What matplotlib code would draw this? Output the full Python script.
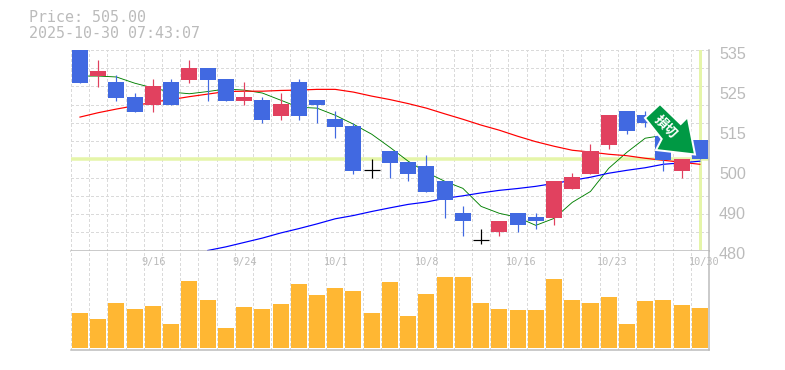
import matplotlib
matplotlib.use('Agg')
import matplotlib.pyplot as plt
from matplotlib.patches import Polygon, Rectangle
from matplotlib.transforms import IdentityTransform

# candles, oldest first. the first one runs off the top of the chart
opens = [535.0, 527.9, 526.2, 522.1, 519.9, 526.2, 526.8, 530.0, 527.0, 521.0, 521.2, 516.9,
         526.2, 521.2, 516.0, 514.1, 502.0, 507.2, 504.2, 503.1, 499.2, 490.2, 483.0, 485.0,
         490.2, 489.1, 488.8, 496.8, 500.9, 508.9, 518.2, 517.1, 511.4, 501.7, 510.2]
closes = [526.0, 529.2, 521.8, 518.0, 525.1, 519.9, 530.0, 526.8, 521.0, 522.1, 515.8, 520.2,
          516.9, 519.9, 513.8, 501.8, 502.0, 504.0, 500.9, 496.0, 493.8, 488.0, 483.0, 488.2,
          486.9, 488.0, 499.2, 500.1, 507.2, 517.1, 512.7, 514.9, 504.8, 505.0, 505.0]
highs = [535.0, 532.2, 528.1, 523.2, 527.0, 527.0, 532.2, 530.0, 527.0, 526.2, 522.1, 523.2,
         527.0, 521.2, 518.2, 514.9, 505.0, 507.2, 504.2, 506.1, 499.2, 492.1, 486.0, 488.2,
         490.2, 490.2, 499.2, 501.2, 509.2, 517.1, 518.2, 518.2, 511.4, 505.0, 510.2]
lows = [526.0, 524.9, 521.0, 518.0, 518.0, 519.9, 525.9, 521.0, 521.0, 519.9, 514.9, 515.8,
        515.8, 514.9, 510.8, 500.9, 499.8, 499.8, 499.0, 496.0, 488.8, 483.9, 481.9, 483.9,
        485.0, 485.8, 486.9, 496.8, 500.9, 507.8, 511.9, 513.8, 501.7, 499.8, 505.0]

ma_green = [527.85, 527.85, 527.6, 525.9, 524.6, 523.45, 523.0, 523.6, 524.3, 524.0, 523.2, 521.25,
            519.3, 519.05, 517.1, 514.65, 511.9, 508.3, 504.5, 501.45, 499.0, 497.05, 492.1, 490.2,
            489.1, 486.9, 488.8, 493.2, 496.2, 502.55, 506.95, 510.8, 511.6, 510.5, 508.9]
ma_red = [516.6, 517.8, 518.8, 519.7, 520.7, 521.4, 522.2, 522.9, 523.6, 523.7, 523.7, 523.9,
          524.0, 524.2, 524.2, 523.45, 522.35, 521.4, 520.3, 519.05, 517.5, 516.0, 514.4, 513.0,
          511.35, 509.85, 508.6, 507.5, 507.0, 506.4, 506.0, 505.3, 504.75, 504.2, 503.65]
# long average only comes into range from candle 7
ma_blue = [480.0, 481.0, 482.2, 483.4, 484.8, 486.0, 487.3, 488.7, 489.6, 490.7, 491.7, 492.65,
           493.3, 494.3, 495.0, 495.8, 496.5, 497.0, 497.6, 498.4, 499.25, 500.1, 501.2, 502.0,
           502.7, 503.65, 504.05, 504.5]

volumes = [35, 29, 45, 39, 42, 24, 67, 48, 20, 41, 39, 44, 64, 53, 60, 57, 35, 66,
           32, 54, 71, 71, 45, 39, 38, 38, 69, 48, 45, 51, 24, 47, 48, 43, 40]

date_labels = ['9/16', '9/24', '10/1', '10/8', '10/16', '10/23', '10/30']
date_index = [4, 9, 14, 19, 24, 29, 34]

# the axis text really is spaced evenly in pixels and rounded, so 502 reads as 500
price_ticks = [535, 524, 513, 502, 491, 480]
price_labels = ['535', '525', '515', '500', '490', '480']
last_price = 505.0

BLUE = '#4169E1'
RED = '#E1415F'
GRAY = '#BBBBBB'
GRID = '#DADADA'
LIME = '#E5F5A9'
W, H = 785, 370
px = 72 / 100  # one pixel in points

fig = plt.figure(figsize=(W / 100, H / 100), dpi=100)
ax = fig.add_axes([70.5 / W, 1 - 250.5 / H, 638.5 / W, 200.5 / H])
ax_vol = fig.add_axes([70.5 / W, 1 - 350 / H, 638.5 / W, 99.5 / H])

n = len(opens)
edges = [i - 0.5 for i in range(n)]
for a in (ax, ax_vol):
    a.set_xlim(-0.52, 34.5)
    a.set_xticks(edges)
    a.set_xticklabels([])
    a.tick_params(length=0)
    a.grid(True, color=GRID, linestyle=(0, (2.5, 2.5)), linewidth=1 * px, antialiased=False)
    a.set_axisbelow(True)
    for side in ('top', 'left'):
        a.spines[side].set_visible(False)
    for side in ('right', 'bottom'):
        a.spines[side].set_color(GRAY)
        a.spines[side].set_linewidth(1.5 * px)

ax.set_ylim(480, 535)
ax.set_yticks(range(480, 536, 5))
ax.set_yticklabels([])

ax.axhline(last_price, color=LIME, linewidth=3.5 * px, zorder=1.5)
ax.axvline(n - 1, color=LIME, linewidth=3 * px, ymin=0.012, zorder=1.5)

xs = list(range(n))
ax.plot(xs, ma_green, color='#008000', linewidth=0.9 * px, zorder=2)
ax.plot(xs, ma_red, color='#FF0000', linewidth=1.2 * px, zorder=2)
ax.plot(xs[7:], ma_blue, color='#0000FF', linewidth=1.2 * px, zorder=2)

for i in xs:
    if closes[i] > opens[i]:
        c = RED
    elif closes[i] < opens[i]:
        c = BLUE
    else:
        c = 'black'
    ax.vlines(i, lows[i], highs[i], color=c, linewidth=1.2 * px, zorder=3)
    if c == 'black':
        ax.hlines(opens[i], i - 0.44, i + 0.44, color=c, linewidth=1.2 * px, zorder=3)
    else:
        ax.add_patch(Rectangle((i - 0.44, min(opens[i], closes[i])), 0.88, abs(opens[i] - closes[i]),
                               color=c, linewidth=0, zorder=3))

ax_vol.bar(xs, volumes, width=0.88, color='#FFB733', zorder=3)
ax_vol.set_ylim(-2, 97.5)
ax_vol.set_yticks([])

for i, lab in zip(date_index, date_labels):
    ax_vol.annotate(lab, (i, 86), xytext=(-11.5 * px, 0), textcoords='offset points', ha='left', va='center',
                    color=GRAY, fontsize=7.4, family='DejaVu Sans Mono', annotation_clip=False, zorder=4)

for p, lab in zip(price_ticks, price_labels):
    ax.annotate(lab, (34.5, p), xytext=(10 * px, -4 * px), textcoords='offset points', ha='left', va='center',
                color=GRAY, fontsize=11.6, family='Liberation Sans', annotation_clip=False)

fig.text(29 / W, 1 - 18 / H, 'Price: 505.00', color=GRAY, fontsize=10.8, family='DejaVu Sans Mono', va='center')
fig.text(29 / W, 1 - 33 / H, '2025-10-30 07:43:07', color=GRAY, fontsize=10.8, family='DejaVu Sans Mono', va='center')

# sell sign, pixel outline measured from the top left of the image
sign = [(660, 104), (680.7, 124), (687.7, 117), (695, 154.5), (656, 150), (661.7, 139), (645, 118)]
sign = [(x, H - y) for x, y in sign]
ax.add_patch(Polygon(sign, closed=True, facecolor='#009944', edgecolor='white', linewidth=2 * px,
                     transform=IdentityTransform(), clip_on=False, zorder=6))
fig.text(666 / W, 1 - 127 / H, '損切', color='white', fontsize=9.5, fontweight='bold', rotation=-45,
         rotation_mode='anchor', ha='center', va='center', family=['Noto Sans CJK JP', 'DejaVu Sans'], zorder=7)

fig.savefig('out.png', dpi=100)
